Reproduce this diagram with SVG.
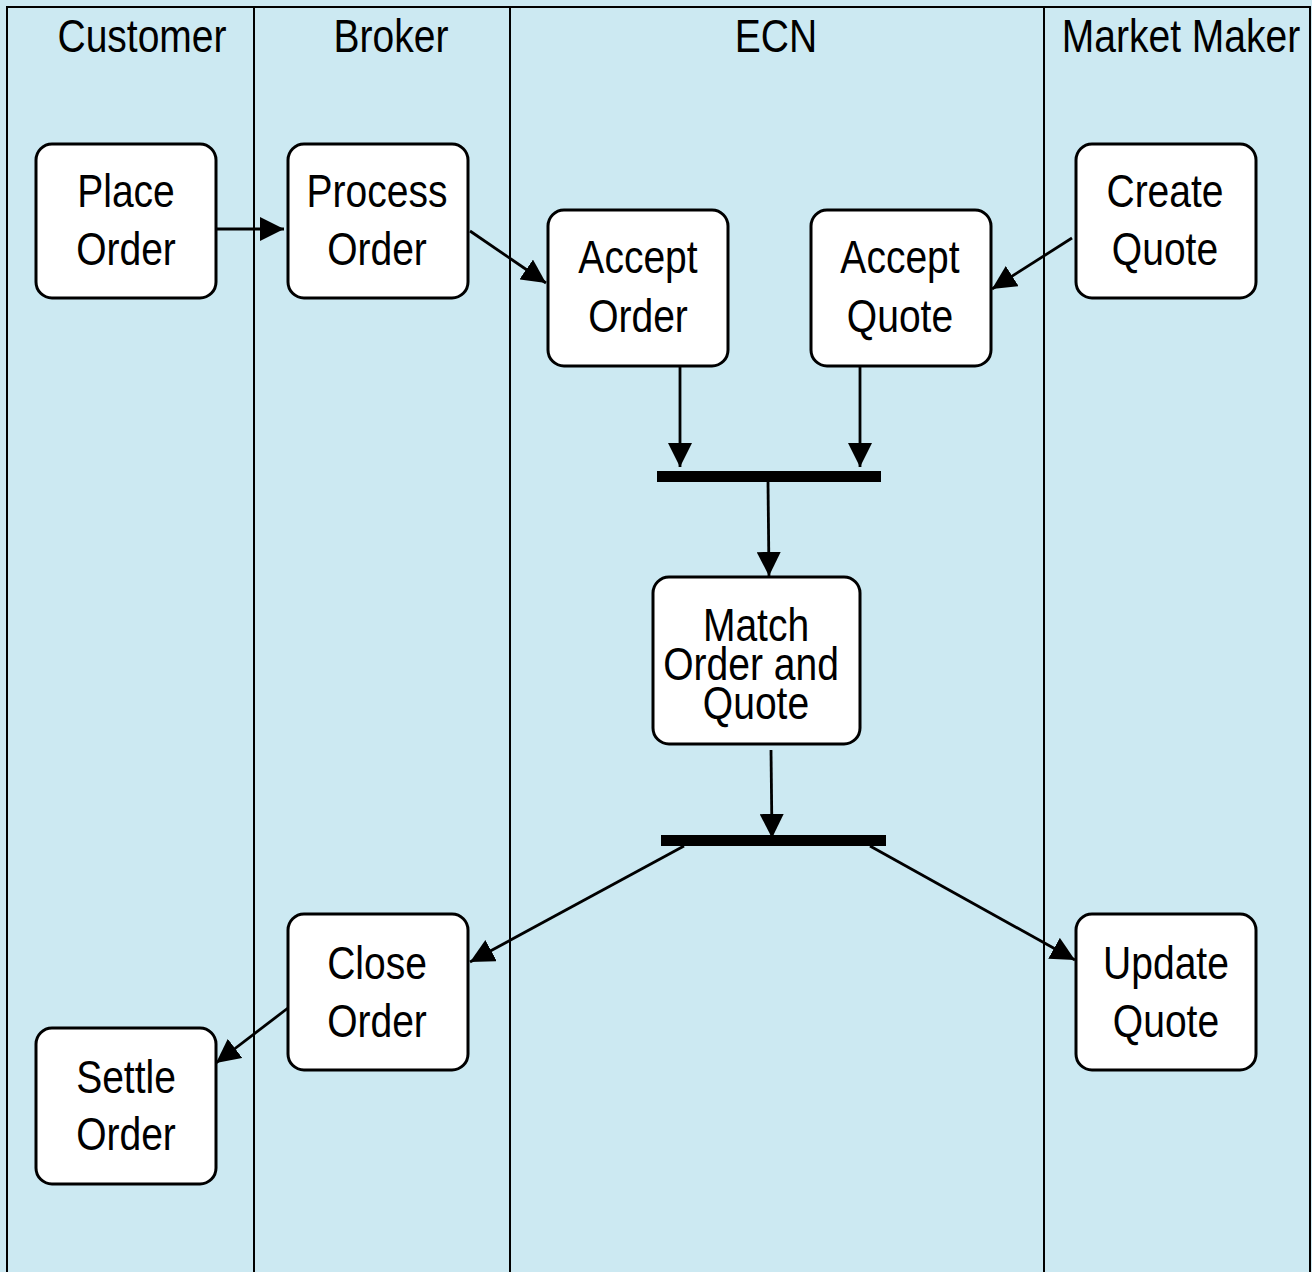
<svg xmlns="http://www.w3.org/2000/svg" width="1312" height="1272" viewBox="0 0 1312 1272">
<style>
.lane{stroke:#000;stroke-width:2;fill:none}
.node{fill:#fff;stroke:#000;stroke-width:3}
.t{font-family:"Liberation Sans",Arial,sans-serif;font-size:47px;fill:#000;text-anchor:middle}
.c{stroke:#000;stroke-width:2.8;fill:none;marker-end:url(#ah)}
.bar{fill:#000}
</style>
<defs>
<marker id="ah" markerUnits="userSpaceOnUse" markerWidth="24" markerHeight="24" viewBox="0 0 22 22" refX="22" refY="11" orient="auto">
<path d="M0,0 L22,11 L0,22 Z" fill="#000"/>
</marker>
</defs>
<rect x="0" y="0" width="1312" height="1272" fill="#cce9f2"/>
<g id="lanes">
<path class="lane" d="M7,1272 V7 H1310 V1272 M254,7 V1272 M510,7 V1272 M1044,7 V1272"/>
<text class="t" transform="translate(142,52) scale(0.83,1)">Customer</text>
<text class="t" transform="translate(391,52) scale(0.83,1)">Broker</text>
<text class="t" transform="translate(776,52) scale(0.83,1)">ECN</text>
<text class="t" transform="translate(1181,52) scale(0.83,1)">Market Maker</text>
</g>
<g id="connectors">
<line class="c" x1="216" y1="229" x2="284" y2="229"/>
<line class="c" x1="470" y1="231" x2="546" y2="283"/>
<line class="c" x1="680" y1="366" x2="680" y2="467"/>
<line class="c" x1="860" y1="366" x2="860" y2="467"/>
<line class="c" x1="1072" y1="238" x2="992" y2="289"/>
<line class="c" x1="768" y1="482" x2="769" y2="576"/>
<line class="c" x1="771" y1="750" x2="772" y2="838"/>
<line class="c" x1="684" y1="846" x2="470" y2="962"/>
<line class="c" x1="870" y1="846" x2="1075" y2="960"/>
<line class="c" x1="288" y1="1008" x2="216" y2="1063"/>
</g>
<g id="bar1"><rect class="bar" x="657" y="471" width="224" height="11"/></g>
<g id="bar2"><rect class="bar" x="661" y="835" width="225" height="11"/></g>
<g id="place-order">
<rect class="node" x="36" y="144" width="180" height="154" rx="16"/>
<text class="t" transform="translate(126,207) scale(0.83,1)">Place</text>
<text class="t" transform="translate(126,265) scale(0.83,1)">Order</text>
</g>
<g id="process-order">
<rect class="node" x="288" y="144" width="180" height="154" rx="16"/>
<text class="t" transform="translate(377,207) scale(0.83,1)">Process</text>
<text class="t" transform="translate(377,265) scale(0.83,1)">Order</text>
</g>
<g id="accept-order">
<rect class="node" x="548" y="210" width="180" height="156" rx="16"/>
<text class="t" transform="translate(638,273) scale(0.83,1)">Accept</text>
<text class="t" transform="translate(638,332) scale(0.83,1)">Order</text>
</g>
<g id="accept-quote">
<rect class="node" x="811" y="210" width="180" height="156" rx="16"/>
<text class="t" transform="translate(900,273) scale(0.83,1)">Accept</text>
<text class="t" transform="translate(900,332) scale(0.83,1)">Quote</text>
</g>
<g id="create-quote">
<rect class="node" x="1076" y="144" width="180" height="154" rx="16"/>
<text class="t" transform="translate(1165,207) scale(0.83,1)">Create</text>
<text class="t" transform="translate(1165,265) scale(0.83,1)">Quote</text>
</g>
<g id="match">
<rect class="node" x="653" y="577" width="207" height="167" rx="16"/>
<text class="t" transform="translate(756,641) scale(0.83,1)">Match</text>
<text class="t" transform="translate(751,680) scale(0.83,1)">Order and</text>
<text class="t" transform="translate(756,719) scale(0.83,1)">Quote</text>
</g>
<g id="close-order">
<rect class="node" x="288" y="914" width="180" height="156" rx="16"/>
<text class="t" transform="translate(377,979) scale(0.83,1)">Close</text>
<text class="t" transform="translate(377,1037) scale(0.83,1)">Order</text>
</g>
<g id="settle-order">
<rect class="node" x="36" y="1028" width="180" height="156" rx="16"/>
<text class="t" transform="translate(126,1093) scale(0.83,1)">Settle</text>
<text class="t" transform="translate(126,1150) scale(0.83,1)">Order</text>
</g>
<g id="update-quote">
<rect class="node" x="1076" y="914" width="180" height="156" rx="16"/>
<text class="t" transform="translate(1166,979) scale(0.83,1)">Update</text>
<text class="t" transform="translate(1166,1037) scale(0.83,1)">Quote</text>
</g>
</svg>
